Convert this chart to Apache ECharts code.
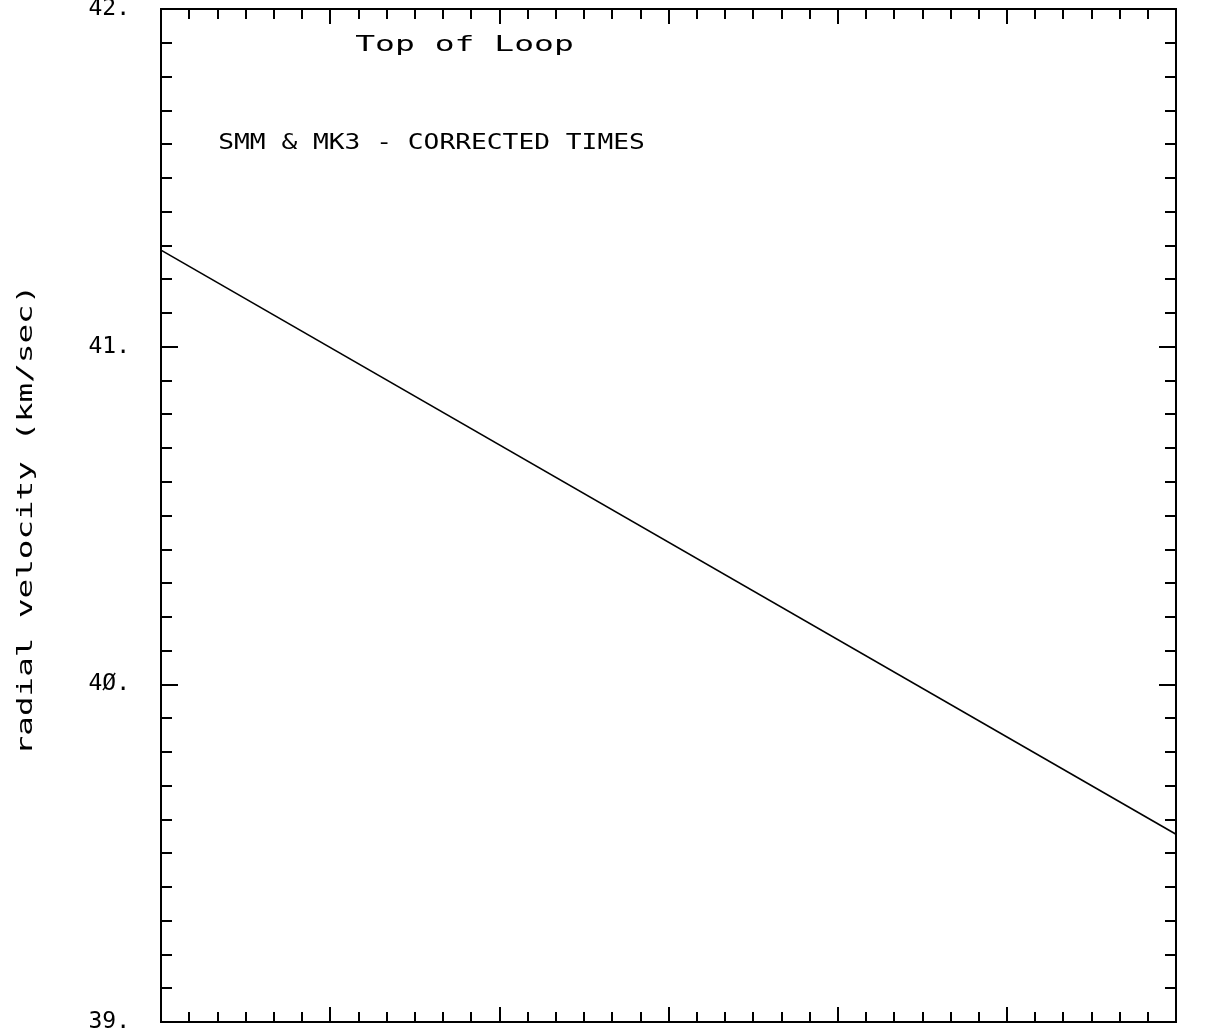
<!DOCTYPE html>
<html>
<head>
<meta charset="utf-8">
<style>html,body{margin:0;padding:0;background:#fff;}#chart{width:1222px;height:1036px;}</style>
<script src="https://cdn.jsdelivr.net/npm/echarts@6/dist/echarts.min.js"></script>
</head>
<body>
<div id="chart"></div>
<script>
// ---- data ----
const titleText = 'Top of Loop';
const subtitleText = 'SMM & MK3 - CORRECTED TIMES';
const yAxisName = 'radial velocity (km/sec)';
const xValues = [0, 36];
const yValues = [41.286, 39.556];
const yTickValues = [39, 40, 41, 42];
const yTickLabels = ['39.', '4Ø.', '41.', '42.'];

const seriesData = xValues.map((x, i) => [x, yValues[i]]);
const FONT = '"DejaVu Sans Mono", "Liberation Mono", monospace';

function mkAxis(position, min, max, interval, tickLen, label) {
  return {
    type: 'value', position: position, min: min, max: max, interval: interval,
    axisLine: { show: true, onZero: false, lineStyle: { color: '#000', width: 2 } },
    axisTick: { show: true, inside: true, length: tickLen, lineStyle: { color: '#000', width: 2 } },
    minorTick: { show: false },
    splitLine: { show: false },
    axisLabel: label || { show: false }
  };
}

const yLabel = {
  show: true, margin: 31, color: '#000', fontSize: 23, fontFamily: FONT,
  formatter: v => { const i = yTickValues.indexOf(Math.round(v * 1000) / 1000); return i >= 0 ? yTickLabels[i] : ''; }
};

const chart = echarts.init(document.getElementById('chart'));
chart.setOption({
  backgroundColor: '#fff',
  animation: false,
  grid: { left: 161, right: 46, top: 9, bottom: 14, containLabel: false, outerBoundsMode: 'none' },
  xAxis: [
    mkAxis('bottom', 0, 36, 6, 15),
    mkAxis('bottom', 0, 36, 1, 10),
    mkAxis('top', 0, 36, 6, 15),
    mkAxis('top', 0, 36, 1, 10)
  ],
  yAxis: [
    mkAxis('left', 39, 42, 1, 17, yLabel),
    mkAxis('left', 39, 42, 0.1, 11),
    mkAxis('right', 39, 42, 1, 17),
    mkAxis('right', 39, 42, 0.1, 11)
  ],
  series: [{
    type: 'line',
    data: seriesData,
    xAxisIndex: 0, yAxisIndex: 0,
    showSymbol: false,
    clip: true,
    lineStyle: { color: '#000', width: 1.6 }
  }],
  graphic: [
    {
      type: 'text', x: 464.5, y: 45, scaleX: 1.5, silent: true,
      style: { text: titleText, fill: '#000', font: '22px ' + FONT, align: 'center', verticalAlign: 'middle' }
    },
    {
      type: 'text', x: 431.5, y: 144, scaleX: 1.28, silent: true,
      style: { text: subtitleText, fill: '#000', font: '20.5px ' + FONT, align: 'center', verticalAlign: 'middle' }
    },
    {
      type: 'text', x: 26, y: 520, rotation: Math.PI / 2, scaleX: 1.48, silent: true,
      style: { text: yAxisName, fill: '#000', font: '22px ' + FONT, align: 'center', verticalAlign: 'middle' }
    }
  ]
});
</script>
</body>
</html>
